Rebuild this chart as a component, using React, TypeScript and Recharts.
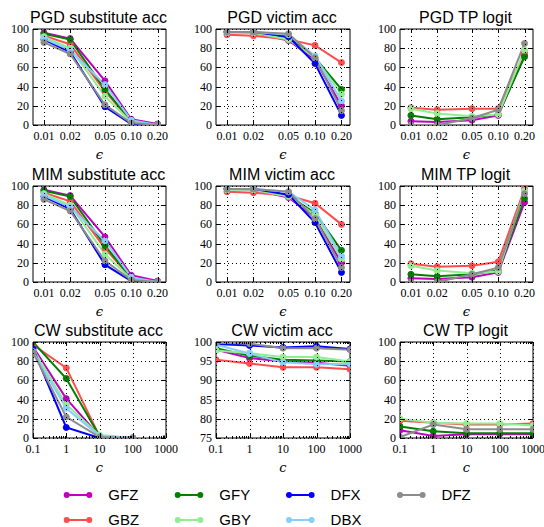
import React from 'react';
import { LineChart, Line, XAxis, YAxis, ReferenceArea } from 'recharts';

// ---------- series meta ----------
const MODELS = ['GFZ', 'GBZ', 'GFY', 'GBY', 'DFX', 'DBX', 'DFZ'];
const MODEL_COLORS = ['#bf00bf', '#ff4d4d', '#008000', '#90ee90', '#0000ff', '#87cefa', '#8c8c8c'];

// ---------- x values / tick labels ----------
const EPSILONS = [0.01, 0.02, 0.05, 0.1, 0.2];
const EPS_TICK_LABELS = ['0.01', '0.02', '0.05', '0.10', '0.20'];
const C_VALUES = [0.1, 1, 10, 100, 1000];
const C_TICK_LABELS = ['0.1', '1', '10', '100', '1000'];
const ACC_TICKS = [0, 20, 40, 60, 80, 100];
const CW_VICTIM_TICKS = [75, 80, 85, 90, 95, 100];

// ---------- data ----------
const pgdSubstitute: Record<string, number[] | null> = {
  GFZ: [96, 90, 46, 6, 1],
  GBZ: [93, 84, 35, 4, 0],
  GFY: [95, 89, 37, 4, 0],
  GBY: [92, 80, 30, 3, 0],
  DFX: [89, 76, 19, 1, 0],
  DBX: [90, 78, 42, 5, 0],
  DFZ: [86, 74, 21, 2, 0],
};
const pgdVictim: Record<string, number[] | null> = {
  GFZ: [97, 96, 88, 68, 20],
  GBZ: [94, 93, 89, 83, 65],
  GFY: [97, 97, 91, 70, 37],
  GBY: [96, 96, 89, 70, 32],
  DFX: [97, 97, 92, 64, 10],
  DBX: [97, 97, 94, 72, 25],
  DFZ: [97, 97, 95, 70, 15],
};
const pgdTpLogit: Record<string, number[] | null> = {
  GFZ: [4, 3, 5, 10, 73],
  GBZ: [18, 16, 17, 17, 75],
  GFY: [10, 6, 8, 11, 71],
  GBY: [17, 12, 9, 11, 78],
  DFX: null,
  DBX: null,
  DFZ: [0, 0, 7, 16, 85],
};
const mimSubstitute: Record<string, number[] | null> = {
  GFZ: [96, 90, 47, 7, 1],
  GBZ: [93, 84, 35, 4, 0],
  GFY: [95, 89, 38, 4, 0],
  GBY: [92, 80, 29, 3, 0],
  DFX: [89, 76, 18, 1, 0],
  DBX: [90, 78, 43, 5, 0],
  DFZ: [86, 74, 22, 2, 0],
};
const mimVictim: Record<string, number[] | null> = {
  GFZ: [97, 96, 88, 67, 20],
  GBZ: [94, 93, 90, 82, 60],
  GFY: [97, 97, 90, 72, 33],
  GBY: [96, 96, 89, 70, 24],
  DFX: [97, 97, 91, 62, 10],
  DBX: [97, 97, 94, 75, 27],
  DFZ: [97, 97, 94, 66, 15],
};
const mimTpLogit: Record<string, number[] | null> = {
  GFZ: [4, 3, 5, 10, 83],
  GBZ: [19, 16, 17, 21, 97],
  GFY: [8, 6, 8, 12, 87],
  GBY: [17, 12, 9, 11, 95],
  DFX: null,
  DBX: null,
  DFZ: [0, 0, 8, 15, 92],
};
const cwSubstitute: Record<string, number[] | null> = {
  GFZ: [95, 41, 2, 0, 0],
  GBZ: [97, 73, 2, 0, 0],
  GFY: [100, 62, 2, 0, 0],
  GBY: [93, 35, 3, 0, 0],
  DFX: [93, 11, 0, 0, 0],
  DBX: [90, 31, 2, 0, 0],
  DFZ: [89, 22, 1, 0, 0],
};
const cwVictim: Record<string, number[] | null> = {
  GFZ: [98, 95.8, 94.9, 94.6, 93.8],
  GBZ: [95.4, 94.4, 93.4, 93.4, 92.9],
  GFY: [98.4, 96.4, 95.4, 95.2, 94.9],
  GBY: [97.8, 97.1, 96.1, 96.1, 94.9],
  DFX: [99.5, 99.1, 98.6, 98.9, 98.2],
  DBX: [99.3, 97, 94.7, 94.2, 94.3],
  DFZ: [99.8, 99.6, 98.4, 98.4, 98],
};
const cwTpLogit: Record<string, number[] | null> = {
  GFZ: [8, 2, 4, 4, 4],
  GBZ: [18, 16, 14, 14, 15],
  GFY: [12, 7, 5, 5, 5],
  GBY: [20, 16, 15, 15, 13],
  DFX: null,
  DBX: null,
  DFZ: [1, 14, 9, 9, 9],
};

// ---------- layout ----------
const COL_LEFT = [33, 216, 400];
const COL_W = [133, 134, 133];
const ROW_TOP = [29, 186, 342];
const PLOT_H = 96;
const Y_AXIS_W = 40;
const X_AXIS_H = 34;
const M_TOP = 10;
const M_RIGHT = 20;
const M_BOTTOM = 6;

const SERIF = 'Liberation Serif';
const SANS = 'Liberation Sans';

const C_MINOR: number[] = [];
[0.1, 1, 10, 100].forEach((d) => {
  for (let k = 2; k <= 9; k++) C_MINOR.push(+(d * k).toPrecision(6));
});

type Panel = {
  title: string;
  values: Record<string, number[] | null>;
  kind: 'eps' | 'c';
  yTicks: number[];
  row: number;
  col: number;
};

const PANELS: Panel[] = [
  { title: 'PGD substitute acc', values: pgdSubstitute, kind: 'eps', yTicks: ACC_TICKS, row: 0, col: 0 },
  { title: 'PGD victim acc', values: pgdVictim, kind: 'eps', yTicks: ACC_TICKS, row: 0, col: 1 },
  { title: 'PGD TP logit', values: pgdTpLogit, kind: 'eps', yTicks: ACC_TICKS, row: 0, col: 2 },
  { title: 'MIM substitute acc', values: mimSubstitute, kind: 'eps', yTicks: ACC_TICKS, row: 1, col: 0 },
  { title: 'MIM victim acc', values: mimVictim, kind: 'eps', yTicks: ACC_TICKS, row: 1, col: 1 },
  { title: 'MIM TP logit', values: mimTpLogit, kind: 'eps', yTicks: ACC_TICKS, row: 1, col: 2 },
  { title: 'CW substitute acc', values: cwSubstitute, kind: 'c', yTicks: ACC_TICKS, row: 2, col: 0 },
  { title: 'CW victim acc', values: cwVictim, kind: 'c', yTicks: CW_VICTIM_TICKS, row: 2, col: 1 },
  { title: 'CW TP logit', values: cwTpLogit, kind: 'c', yTicks: ACC_TICKS, row: 2, col: 2 },
];

const near = (a: number, b: number) => Math.abs(a - b) < 1e-9 * Math.max(1, Math.abs(b));

const tickTextStyle: React.CSSProperties = { fontFamily: SERIF, fontSize: 12, fill: '#000' };

const makeXTick = (plotH: number, majors: number[], labels: string[]) => (props: any) => {
  const { x, y, payload } = props;
  const v = payload.value;
  const idx = majors.findIndex((m) => near(m, v));
  const major = idx >= 0;
  const len = major ? 4 : 2;
  const xx = Math.round(x) + 0.5;
  return (
    <g>
      {major && (
        <line x1={xx} x2={xx} y1={y} y2={y - plotH} stroke="#000" strokeWidth={1} strokeDasharray="1 3" />
      )}
      <line x1={xx} x2={xx} y1={y} y2={y - len} stroke="#000" strokeWidth={1} />
      <line x1={xx} x2={xx} y1={y - plotH} y2={y - plotH + len} stroke="#000" strokeWidth={1} />
      {major && (
        <text x={x} y={y + 15} textAnchor="middle" style={tickTextStyle}>
          {labels[idx]}
        </text>
      )}
    </g>
  );
};

const makeYTick = (plotW: number) => (props: any) => {
  const { x, y, payload } = props;
  const yy = Math.round(y) + 0.5;
  return (
    <g>
      <line x1={x} x2={x + plotW} y1={yy} y2={yy} stroke="#000" strokeWidth={1} strokeDasharray="1 3" />
      <line x1={x} x2={x + 4} y1={yy} y2={yy} stroke="#000" strokeWidth={1} />
      <line x1={x + plotW} x2={x + plotW - 4} y1={yy} y2={yy} stroke="#000" strokeWidth={1} />
      <text x={x - 4} y={y + 4} textAnchor="end" style={tickTextStyle}>
        {payload.value}
      </text>
    </g>
  );
};

function PanelChart({ p }: { p: Panel }) {
  const plotW = COL_W[p.col];
  const plotLeft = COL_LEFT[p.col];
  const plotTop = ROW_TOP[p.row];
  const xs = p.kind === 'eps' ? EPSILONS : C_VALUES;
  const xLabels = p.kind === 'eps' ? EPS_TICK_LABELS : C_TICK_LABELS;
  const xDomain = p.kind === 'eps' ? [0.0075, 0.25] : [0.1, 1000];
  const xTicks = p.kind === 'eps' ? EPSILONS : [...C_VALUES, ...C_MINOR];
  const yDomain = [p.yTicks[0], p.yTicks[p.yTicks.length - 1]];
  const data = xs.map((x, i) => {
    const row: Record<string, number | null> = { x };
    MODELS.forEach((m) => {
      const arr = p.values[m];
      row[m] = arr ? arr[i] : null;
    });
    return row;
  });
  const width = Y_AXIS_W + plotW + M_RIGHT;
  const height = M_TOP + PLOT_H + X_AXIS_H + M_BOTTOM;
  return (
    <>
      <div
        style={{
          position: 'absolute',
          left: plotLeft + plotW / 2 - 1,
          top: plotTop - 6 - 13.5,
          transform: 'translateX(-50%)',
          whiteSpace: 'nowrap',
          fontFamily: SANS,
          fontSize: 16,
          lineHeight: '16px',
          color: '#000',
        }}
      >
        {p.title}
      </div>
      <div style={{ position: 'absolute', left: plotLeft - Y_AXIS_W, top: plotTop - M_TOP }}>
        <LineChart
          width={width}
          height={height}
          data={data}
          margin={{ top: M_TOP, right: M_RIGHT, bottom: M_BOTTOM, left: 0 }}
        >
          <XAxis
            dataKey="x"
            type="number"
            scale="log"
            domain={xDomain}
            allowDataOverflow
            ticks={xTicks}
            interval={0}
            tickLine={false}
            axisLine={false}
            tickSize={0}
            tickMargin={0}
            height={X_AXIS_H}
            tick={makeXTick(PLOT_H, xs, xLabels)}
            label={{
              value: p.kind === 'eps' ? 'ϵ' : 'c',
              position: 'insideBottom',
              offset: 0,
              style: { fontFamily: 'DejaVu Serif', fontStyle: 'italic', fontSize: 13, fill: '#000' },
            }}
          />
          <YAxis
            type="number"
            domain={yDomain}
            allowDataOverflow
            ticks={p.yTicks}
            interval={0}
            tickLine={false}
            axisLine={false}
            tickSize={0}
            tickMargin={0}
            width={Y_AXIS_W}
            tick={makeYTick(plotW)}
          />
          {MODELS.map((m, k) =>
            p.values[m] ? (
              <Line
                key={m}
                dataKey={m}
                stroke={MODEL_COLORS[k]}
                strokeWidth={2}
                dot={{ r: 3, fill: MODEL_COLORS[k], stroke: MODEL_COLORS[k], strokeWidth: 1 }}
                activeDot={false}
                isAnimationActive={false}
              />
            ) : null
          )}
          <ReferenceArea
            x1={xDomain[0]}
            x2={xDomain[1]}
            y1={yDomain[0]}
            y2={yDomain[1]}
            fill="none"
            fillOpacity={0}
            stroke="#000"
            strokeWidth={1}
            ifOverflow="visible"
          />
        </LineChart>
      </div>
    </>
  );
}

const LEGEND_COL_X = [66.7, 177.7, 289, 400];
const LEGEND_ROW_Y = [495, 520];

function Legend() {
  return (
    <svg
      width={544}
      height={527}
      style={{ position: 'absolute', left: 0, top: 0, pointerEvents: 'none' }}
    >
      {MODELS.map((m, i) => {
        const x0 = LEGEND_COL_X[Math.floor(i / 2)];
        const y0 = LEGEND_ROW_Y[i % 2];
        const c = MODEL_COLORS[i];
        return (
          <g key={m}>
            <line x1={x0} x2={x0 + 22.6} y1={y0} y2={y0} stroke={c} strokeWidth={2} />
            <circle cx={x0} cy={y0} r={3} fill={c} />
            <circle cx={x0 + 22.6} cy={y0} r={3} fill={c} />
            <text x={x0 + 41.6} y={y0 + 5.3} style={{ fontFamily: SANS, fontSize: 15, fill: '#000' }}>
              {m}
            </text>
          </g>
        );
      })}
    </svg>
  );
}

export default function App() {
  return (
    <div
      style={{
        position: 'absolute',
        left: 0,
        top: 0,
        width: 544,
        height: 527,
        background: '#fff',
        overflow: 'hidden',
      }}
    >
      {PANELS.map((p) => (
        <PanelChart key={p.title} p={p} />
      ))}
      <Legend />
    </div>
  );
}
